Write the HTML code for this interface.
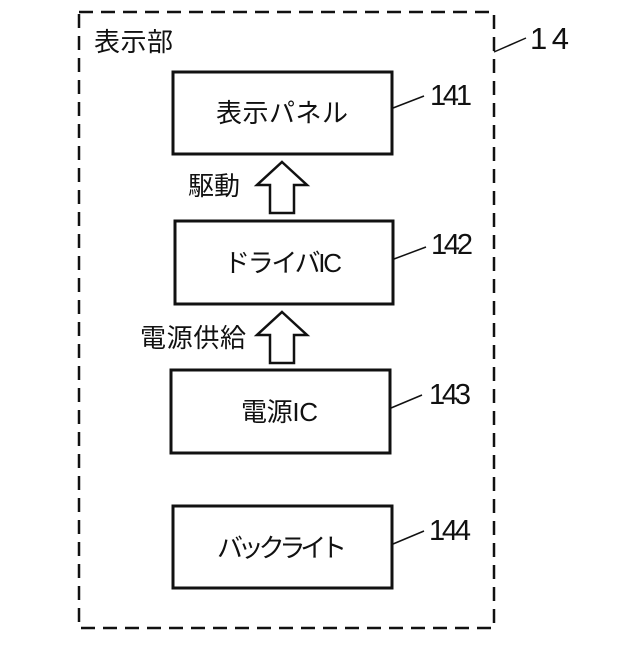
<!DOCTYPE html>
<html><head><meta charset="utf-8"><style>
html,body{margin:0;padding:0;background:#fff;}
svg text{font-family:"Liberation Sans","Noto Sans CJK JP",sans-serif;fill:#111;}
</style></head><body>
<svg width="640" height="640" viewBox="0 0 640 640" xmlns="http://www.w3.org/2000/svg">
<rect x="79" y="12" width="415" height="616" fill="none" stroke="#111" stroke-width="2.5" stroke-dasharray="14,8"/>
<text x="94" y="51" font-size="26" textLength="79">表示部</text>
<line x1="494" y1="52" x2="526" y2="38" stroke="#111" stroke-width="1.5"/>
<text x="530" y="49" font-size="31" textLength="39">14</text>
<g fill="#fff" stroke="#111" stroke-width="3">
<rect x="173" y="72" width="219" height="82"/>
<rect x="175" y="221" width="218" height="83"/>
<rect x="171" y="370" width="219" height="83"/>
<rect x="173" y="506" width="219" height="82"/>
</g>
<g font-size="26">
<text x="216" y="122" textLength="132">表示パネル</text>
<text x="224" y="272" textLength="118">ドライバIC</text>
<text x="241" y="421" textLength="77">電源IC</text>
<text x="217" y="557" textLength="130">バックライト</text>
</g>
<g stroke="#111" stroke-width="1.5">
<line x1="393" y1="108" x2="424" y2="96"/>
<line x1="394" y1="259" x2="426" y2="247"/>
<line x1="391" y1="408" x2="422" y2="395"/>
<line x1="393" y1="544" x2="424" y2="531"/>
</g>
<g font-size="29">
<text x="430" y="105" textLength="42">141</text>
<text x="431" y="254" textLength="42">142</text>
<text x="429" y="404" textLength="42">143</text>
<text x="429" y="540" textLength="42">144</text>
</g>
<g fill="#fff" stroke="#111" stroke-width="2.5">
<polygon points="282,162 307,185 294,185 294,213 270,213 270,185 257,185"/>
<polygon points="282,312 307,335 294,335 294,363 270,363 270,335 257,335"/>
</g>
<text x="188" y="195" font-size="26" textLength="52">駆動</text>
<text x="140" y="347" font-size="26" textLength="106">電源供給</text>
</svg>
</body></html>
